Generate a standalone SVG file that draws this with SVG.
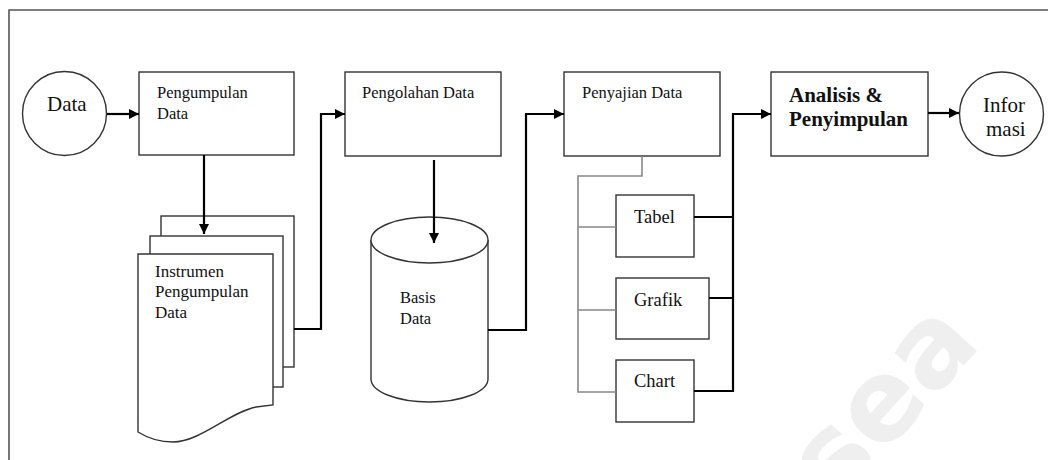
<svg xmlns="http://www.w3.org/2000/svg" width="1048" height="460" viewBox="0 0 1048 460">
  <defs>
    <marker id="ah" viewBox="0 0 10 10" refX="10" refY="5" markerWidth="13" markerHeight="10" markerUnits="userSpaceOnUse" orient="auto">
      <path d="M0,0 L10,5 L0,10 z" fill="#000"/>
    </marker>
    <style>
      .box { fill: #fff; stroke: #333; stroke-width: 1.4; }
      .t { font-family: "Liberation Serif", "Times New Roman", serif; fill: #111; }
      .s16 { font-size: 16.5px; }
      .s17 { font-size: 17px; }
      .s18 { font-size: 18.5px; }
      .s21 { font-size: 21px; }
      .b { font-weight: bold; }
      .link { fill: none; stroke: #000; stroke-width: 2.2; }
      .tree { fill: none; stroke: #888; stroke-width: 1.6; }
      .frame { fill: none; stroke: #555; stroke-width: 1.6; }
    </style>
  </defs>

  <rect width="1048" height="460" fill="#fff"/>

  <!-- watermark -->
  <text transform="translate(886,404) rotate(-48)" x="0" y="32" text-anchor="middle" font-family="DejaVu Sans, sans-serif" font-weight="bold" font-size="112" fill="#efefef">sea</text>

  <!-- frame -->
  <path class="frame" d="M9,460 V10 H1048"/>

  <!-- nodes -->
  <g id="data">
    <circle class="box" cx="64.5" cy="113.5" r="42"/>
    <text class="t s21" x="47" y="111" font-size="20px">Data</text>
  </g>

  <g id="pengumpulan">
    <rect class="box" x="139" y="72" width="155" height="83"/>
    <text class="t s16" x="157" y="98">Pengumpulan</text>
    <text class="t s16" x="157" y="119">Data</text>
  </g>

  <g id="instrumen">
    <rect class="box" x="161" y="216" width="133" height="151"/>
    <rect class="box" x="150" y="236" width="133" height="151"/>
    <path class="box" d="M138,254 H273 V405 L256,407 C230,412 200,442 173,442 C158,442 146,437 138,432 Z"/>
    <text class="t s17" x="155" y="277">Instrumen</text>
    <text class="t s17" x="155" y="297">Pengumpulan</text>
    <text class="t s17" x="155" y="318">Data</text>
  </g>

  <g id="pengolahan">
    <rect class="box" x="345" y="72" width="156" height="84"/>
    <text class="t s16" x="362" y="98">Pengolahan Data</text>
  </g>

  <g id="basis-data">
    <path class="box" d="M371,240 V379 A58.5,23 0 0 0 488,379 V240"/>
    <ellipse class="box" cx="429.5" cy="240" rx="58.5" ry="23"/>
    <text class="t s16" x="400" y="303">Basis</text>
    <text class="t s16" x="400" y="324">Data</text>
  </g>

  <g id="penyajian">
    <rect class="box" x="564" y="72" width="156" height="84"/>
    <text class="t s16" x="582" y="98">Penyajian Data</text>
  </g>

  <g id="tabel">
    <rect class="box" x="616" y="195" width="78" height="62"/>
    <text class="t s18" x="634" y="223">Tabel</text>
  </g>

  <g id="grafik">
    <rect class="box" x="616" y="278" width="93" height="61"/>
    <text class="t s18" x="634" y="306">Grafik</text>
  </g>

  <g id="chart">
    <rect class="box" x="616" y="360" width="78" height="62"/>
    <text class="t s18" x="634" y="387">Chart</text>
  </g>

  <g id="analisis">
    <rect class="box" x="771" y="72" width="157" height="84"/>
    <text class="t s21 b" x="789" y="102">Analisis &amp;</text>
    <text class="t s21 b" x="789" y="126">Penyimpulan</text>
  </g>

  <g id="informasi">
    <circle class="box" cx="1001.5" cy="114" r="42"/>
    <text class="t s21" x="983" y="112">Infor</text>
    <text class="t s21" x="986" y="136">masi</text>
  </g>

  <!-- connectors -->
  <g id="connectors">
    <path class="link" d="M107,114 H139" marker-end="url(#ah)"/>
    <path class="link" d="M204,155 V234" marker-end="url(#ah)"/>
    <path class="link" d="M294,329 H321 V114 H345" marker-end="url(#ah)"/>
    <path class="link" d="M434,160 V243" marker-end="url(#ah)"/>
    <path class="link" d="M488,330 H526 V114 H564" marker-end="url(#ah)"/>
    <path class="tree" d="M642,156 V176 H578 V392 H616 M578,227 H616 M578,310 H616"/>
    <path class="link" d="M694,217 H733 M709,298 H733 M694,391 H733 V114 H771" marker-end="url(#ah)"/>
    <path class="link" d="M928,113 H959" marker-end="url(#ah)"/>
  </g>
</svg>
